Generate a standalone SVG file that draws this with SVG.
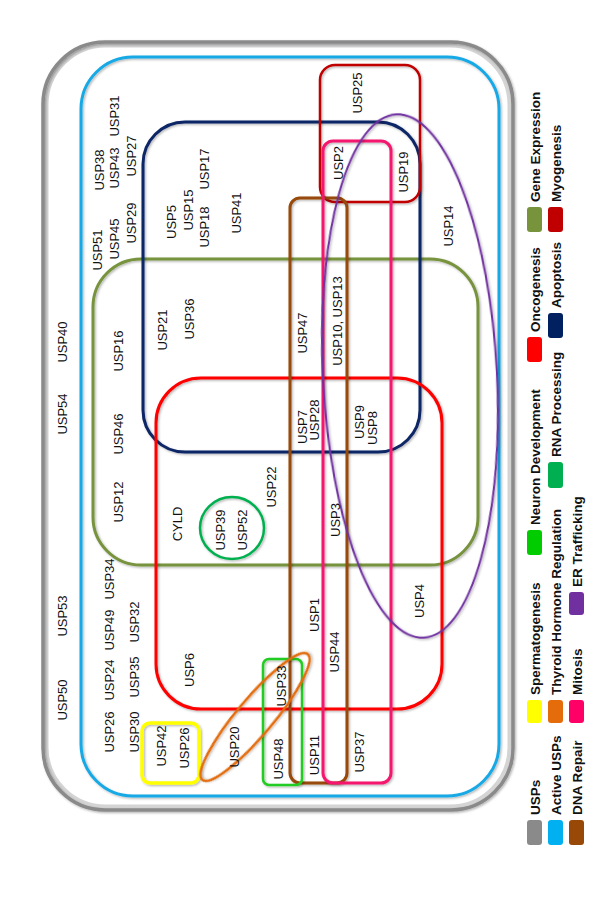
<svg xmlns="http://www.w3.org/2000/svg" width="610" height="902" viewBox="0 0 610 902">
  <defs>
    <filter id="soft" x="-10%" y="-10%" width="120%" height="120%">
      <feDropShadow dx="1.2" dy="1.2" stdDeviation="1.2" flood-color="#000" flood-opacity="0.3"/>
    </filter>
    <style>
      .set { fill: none; filter: url(#soft); }
      .lbl { font-family: "Liberation Sans", Arial, sans-serif; font-size: 13px; fill: #111; text-anchor: middle; }
      .key { font-family: "Liberation Sans", Arial, sans-serif; font-size: 13.5px; font-weight: bold; fill: #111; text-anchor: start; }
      .sw { stroke: none; }
    </style>
  </defs>
  <rect width="610" height="902" fill="#ffffff"/>

  <!-- all USPs: bevelled grey frame -->
  <g id="usps">
    <rect x="46" y="45" width="464" height="762" rx="60" fill="none" stroke="#d4d4d4" stroke-width="5"/>
    <rect x="43" y="42" width="470" height="768" rx="62" class="set" stroke="#8a8a8a" stroke-width="3.5"/>
  </g>

  <!-- active USPs -->
  <g id="active-usps">
    <rect x="81" y="57" width="418" height="739" rx="52" class="set" stroke="#17a9e6" stroke-width="3"/>
  </g>

  <!-- Gene Expression -->
  <g id="gene-expression">
    <rect x="93" y="259" width="385" height="306" rx="48" class="set" stroke="#77933c" stroke-width="3"/>
  </g>

  <!-- Apoptosis -->
  <g id="apoptosis">
    <rect x="143" y="122" width="277" height="330" rx="42" class="set" stroke="#0b2566" stroke-width="3"/>
  </g>

  <!-- Oncogenesis -->
  <g id="oncogenesis">
    <rect x="156" y="378" width="286" height="331" rx="45" class="set" stroke="#ff0000" stroke-width="3"/>
  </g>

  <!-- Myogenesis -->
  <g id="myogenesis">
    <rect x="320" y="65" width="100" height="137" rx="15" class="set" stroke="#c00000" stroke-width="2.5"/>
  </g>

  <!-- DNA Repair -->
  <g id="dna-repair">
    <rect x="290" y="198" width="57" height="585" rx="10" class="set" stroke="#984807" stroke-width="3"/>
  </g>

  <!-- Mitosis -->
  <g id="mitosis">
    <rect x="323" y="141" width="68" height="642" rx="10" class="set" stroke="#f5166e" stroke-width="3"/>
  </g>

  <!-- Neuron Development -->
  <g id="neuron-development">
    <rect x="263" y="659" width="39" height="126" rx="6" class="set" stroke="#22cc22" stroke-width="2.5"/>
  </g>

  <!-- Spermatogenesis -->
  <g id="spermatogenesis">
    <rect x="142" y="723" width="57" height="60" rx="8" class="set" stroke="#ffff00" stroke-width="3.5"/>
  </g>

  <!-- Thyroid Hormone Regulation -->
  <g id="thyroid-hormone-regulation">
    <ellipse cx="255" cy="717" rx="82" ry="18" transform="rotate(-50 255 717)" class="set" stroke="#e46c0a" stroke-width="2.5"/>
  </g>

  <!-- RNA Processing -->
  <g id="rna-processing">
    <ellipse cx="232" cy="528" rx="32" ry="31" class="set" stroke="#00b050" stroke-width="2.5"/>
  </g>

  <!-- ER Trafficking -->
  <g id="er-trafficking">
    <ellipse cx="410" cy="376" rx="87" ry="262" transform="rotate(-3 410 376)" class="set" stroke="#7030a0" stroke-width="2"/>
  </g>

  <!-- member labels, read bottom to top -->
  <g id="labels">
    <text class="lbl" x="114" y="116" dy="0.35em" transform="rotate(-90 114 116)">USP31</text>
    <text class="lbl" x="99" y="170" dy="0.35em" transform="rotate(-90 99 170)">USP38</text>
    <text class="lbl" x="114" y="168" dy="0.35em" transform="rotate(-90 114 168)">USP43</text>
    <text class="lbl" x="131" y="156" dy="0.35em" transform="rotate(-90 131 156)">USP27</text>
    <text class="lbl" x="97" y="250" dy="0.35em" transform="rotate(-90 97 250)">USP51</text>
    <text class="lbl" x="114" y="239" dy="0.35em" transform="rotate(-90 114 239)">USP45</text>
    <text class="lbl" x="131" y="223" dy="0.35em" transform="rotate(-90 131 223)">USP29</text>
    <text class="lbl" x="171" y="222" dy="0.35em" transform="rotate(-90 171 222)">USP5</text>
    <text class="lbl" x="188" y="210" dy="0.35em" transform="rotate(-90 188 210)">USP15</text>
    <text class="lbl" x="204" y="227" dy="0.35em" transform="rotate(-90 204 227)">USP18</text>
    <text class="lbl" x="204" y="169" dy="0.35em" transform="rotate(-90 204 169)">USP17</text>
    <text class="lbl" x="236" y="213" dy="0.35em" transform="rotate(-90 236 213)">USP41</text>
    <text class="lbl" x="357" y="93" dy="0.35em" transform="rotate(-90 357 93)">USP25</text>
    <text class="lbl" x="338" y="163" dy="0.35em" transform="rotate(-90 338 163)">USP2</text>
    <text class="lbl" x="403" y="172" dy="0.35em" transform="rotate(-90 403 172)">USP19</text>
    <text class="lbl" x="448" y="226" dy="0.35em" transform="rotate(-90 448 226)">USP14</text>
    <text class="lbl" x="62" y="342" dy="0.35em" transform="rotate(-90 62 342)">USP40</text>
    <text class="lbl" x="62" y="414" dy="0.35em" transform="rotate(-90 62 414)">USP54</text>
    <text class="lbl" x="118" y="351" dy="0.35em" transform="rotate(-90 118 351)">USP16</text>
    <text class="lbl" x="118" y="434" dy="0.35em" transform="rotate(-90 118 434)">USP46</text>
    <text class="lbl" x="118" y="502" dy="0.35em" transform="rotate(-90 118 502)">USP12</text>
    <text class="lbl" x="162" y="330" dy="0.35em" transform="rotate(-90 162 330)">USP21</text>
    <text class="lbl" x="189" y="319" dy="0.35em" transform="rotate(-90 189 319)">USP36</text>
    <text class="lbl" x="177" y="524" dy="0.35em" transform="rotate(-90 177 524)">CYLD</text>
    <text class="lbl" x="62" y="616" dy="0.35em" transform="rotate(-90 62 616)">USP53</text>
    <text class="lbl" x="62" y="700" dy="0.35em" transform="rotate(-90 62 700)">USP50</text>
    <text class="lbl" x="109" y="579" dy="0.35em" transform="rotate(-90 109 579)">USP34</text>
    <text class="lbl" x="109" y="630" dy="0.35em" transform="rotate(-90 109 630)">USP49</text>
    <text class="lbl" x="109" y="680" dy="0.35em" transform="rotate(-90 109 680)">USP24</text>
    <text class="lbl" x="109" y="732" dy="0.35em" transform="rotate(-90 109 732)">USP26</text>
    <text class="lbl" x="134" y="622" dy="0.35em" transform="rotate(-90 134 622)">USP32</text>
    <text class="lbl" x="134" y="677" dy="0.35em" transform="rotate(-90 134 677)">USP35</text>
    <text class="lbl" x="134" y="732" dy="0.35em" transform="rotate(-90 134 732)">USP30</text>
    <text class="lbl" x="189" y="670" dy="0.35em" transform="rotate(-90 189 670)">USP6</text>
    <text class="lbl" x="161" y="746" dy="0.35em" transform="rotate(-90 161 746)">USP42</text>
    <text class="lbl" x="184" y="748" dy="0.35em" transform="rotate(-90 184 748)">USP26</text>
    <text class="lbl" x="302" y="333" dy="0.35em" transform="rotate(-90 302 333)">USP47</text>
    <text class="lbl" x="337" y="321" dy="0.35em" transform="rotate(-90 337 321)">USP10, USP13</text>
    <text class="lbl" x="302" y="427" dy="0.35em" transform="rotate(-90 302 427)">USP7</text>
    <text class="lbl" x="314" y="420" dy="0.35em" transform="rotate(-90 314 420)">USP28</text>
    <text class="lbl" x="359" y="422" dy="0.35em" transform="rotate(-90 359 422)">USP9</text>
    <text class="lbl" x="372" y="428" dy="0.35em" transform="rotate(-90 372 428)">USP8</text>
    <text class="lbl" x="271" y="487" dy="0.35em" transform="rotate(-90 271 487)">USP22</text>
    <text class="lbl" x="220" y="530" dy="0.35em" transform="rotate(-90 220 530)">USP39</text>
    <text class="lbl" x="242" y="530" dy="0.35em" transform="rotate(-90 242 530)">USP52</text>
    <text class="lbl" x="335" y="520" dy="0.35em" transform="rotate(-90 335 520)">USP3</text>
    <text class="lbl" x="314" y="615" dy="0.35em" transform="rotate(-90 314 615)">USP1</text>
    <text class="lbl" x="334" y="652" dy="0.35em" transform="rotate(-90 334 652)">USP44</text>
    <text class="lbl" x="419" y="601" dy="0.35em" transform="rotate(-90 419 601)">USP4</text>
    <text class="lbl" x="281" y="686" dy="0.35em" transform="rotate(-90 281 686)">USP33</text>
    <text class="lbl" x="234" y="747" dy="0.35em" transform="rotate(-90 234 747)">USP20</text>
    <text class="lbl" x="278" y="759" dy="0.35em" transform="rotate(-90 278 759)">USP48</text>
    <text class="lbl" x="314" y="755" dy="0.35em" transform="rotate(-90 314 755)">USP11</text>
    <text class="lbl" x="359" y="752" dy="0.35em" transform="rotate(-90 359 752)">USP37</text>
  </g>

  <!-- legend: swatch below each label, three columns -->
  <g id="legend">
    <rect class="sw" x="527" y="820" width="15" height="25" rx="3" fill="#8a8a8a"/>
    <text class="key" x="535" y="815" dy="0.35em" transform="rotate(-90 535 815)">USPs</text>
    <rect class="sw" x="527" y="700" width="15" height="23" rx="3" fill="#ffff00"/>
    <text class="key" x="535" y="695" dy="0.35em" transform="rotate(-90 535 695)">Spermatogenesis</text>
    <rect class="sw" x="527" y="530" width="15" height="25" rx="3" fill="#00cc00"/>
    <text class="key" x="535" y="525" dy="0.35em" transform="rotate(-90 535 525)">Neuron Development</text>
    <rect class="sw" x="527" y="337" width="15" height="25" rx="3" fill="#ff0000"/>
    <text class="key" x="535" y="332" dy="0.35em" transform="rotate(-90 535 332)">Oncogenesis</text>
    <rect class="sw" x="527" y="207" width="15" height="25" rx="3" fill="#77933c"/>
    <text class="key" x="535" y="202" dy="0.35em" transform="rotate(-90 535 202)">Gene Expression</text>

    <rect class="sw" x="548" y="820" width="15" height="25" rx="3" fill="#00b0f0"/>
    <text class="key" x="556" y="815" dy="0.35em" transform="rotate(-90 556 815)">Active USPs</text>
    <rect class="sw" x="548" y="700" width="15" height="23" rx="3" fill="#e46c0a"/>
    <text class="key" x="556" y="695" dy="0.35em" transform="rotate(-90 556 695)">Thyroid Hormone Regulation</text>
    <rect class="sw" x="548" y="462" width="15" height="26" rx="3" fill="#00b050"/>
    <text class="key" x="556" y="457" dy="0.35em" transform="rotate(-90 556 457)">RNA Processing</text>
    <rect class="sw" x="548" y="313" width="15" height="25" rx="3" fill="#002060"/>
    <text class="key" x="556" y="308" dy="0.35em" transform="rotate(-90 556 308)">Apoptosis</text>
    <rect class="sw" x="548" y="207" width="15" height="25" rx="3" fill="#c00000"/>
    <text class="key" x="556" y="202" dy="0.35em" transform="rotate(-90 556 202)">Myogenesis</text>

    <rect class="sw" x="569" y="820" width="15" height="25" rx="3" fill="#984807"/>
    <text class="key" x="577" y="815" dy="0.35em" transform="rotate(-90 577 815)">DNA Repair</text>
    <rect class="sw" x="569" y="700" width="15" height="23" rx="3" fill="#ff0066"/>
    <text class="key" x="577" y="695" dy="0.35em" transform="rotate(-90 577 695)">Mitosis</text>
    <rect class="sw" x="569" y="592" width="15" height="23" rx="3" fill="#7030a0"/>
    <text class="key" x="577" y="587" dy="0.35em" transform="rotate(-90 577 587)">ER Trafficking</text>
  </g>
</svg>
